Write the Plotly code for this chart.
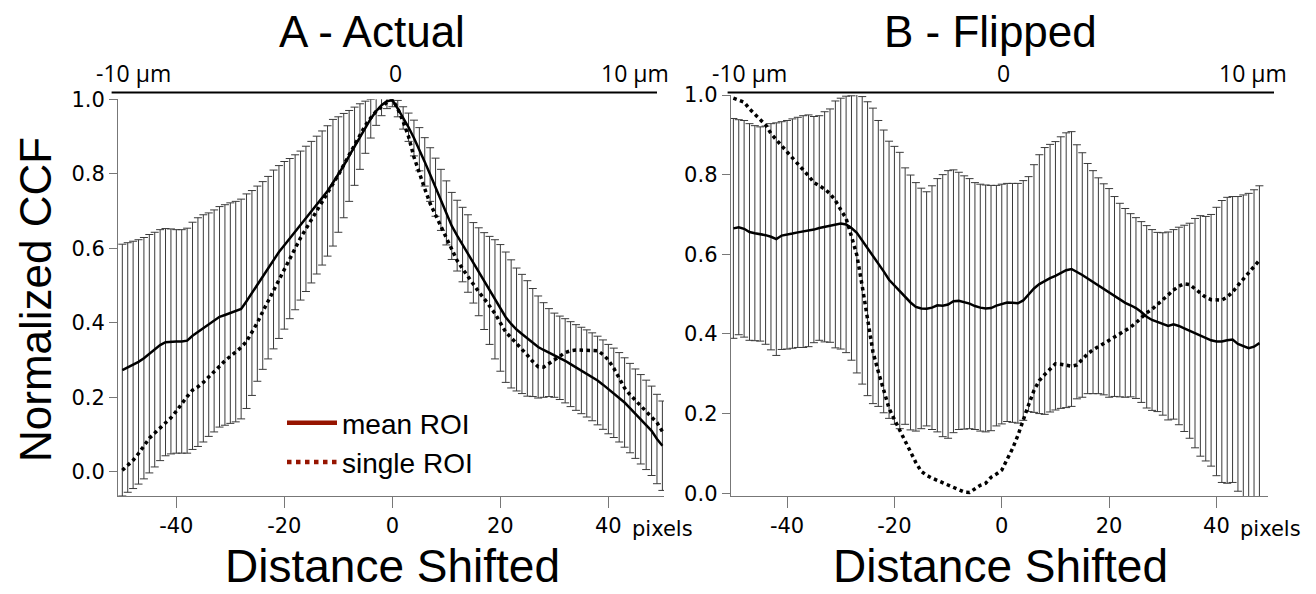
import plotly.graph_objects as go

# ---------------- data ----------------
shift_a = list(range(-50, 51))
shift_b = list(range(-50, 49))

mean_a = [0.273, 0.28, 0.287, 0.295, 0.305, 0.317, 0.328, 0.34, 0.348, 0.35,
          0.35, 0.35, 0.352, 0.365, 0.375, 0.385, 0.395, 0.405, 0.416, 0.421,
          0.426, 0.43, 0.437, 0.458, 0.48, 0.505, 0.527, 0.548, 0.57, 0.59,
          0.608, 0.626, 0.643, 0.661, 0.679, 0.697, 0.716, 0.735, 0.754, 0.776,
          0.798, 0.822, 0.848, 0.874, 0.9, 0.925, 0.948, 0.968, 0.984, 0.995,
          0.998,
          0.975, 0.95, 0.925, 0.896, 0.866, 0.832, 0.798, 0.764, 0.73, 0.695,
          0.66, 0.634, 0.61, 0.586, 0.561, 0.537, 0.512, 0.487, 0.463, 0.44,
          0.415, 0.397, 0.382, 0.37, 0.358, 0.347, 0.335, 0.327, 0.32, 0.313,
          0.306, 0.298, 0.289, 0.28, 0.272, 0.264, 0.255, 0.245, 0.234, 0.222,
          0.212, 0.2, 0.186, 0.171, 0.156, 0.141, 0.126, 0.11, 0.088, 0.07]

single_a = [0.004, 0.018, 0.031, 0.049, 0.07, 0.09, 0.104, 0.117, 0.13, 0.145,
            0.163, 0.184, 0.202, 0.219, 0.228, 0.24, 0.255, 0.27, 0.285, 0.298,
            0.31, 0.322, 0.334, 0.35, 0.375, 0.4, 0.43, 0.458, 0.488, 0.518,
            0.546, 0.574, 0.6, 0.628, 0.652, 0.676, 0.7, 0.722, 0.745, 0.77,
            0.797, 0.824, 0.85, 0.876, 0.905, 0.93, 0.95, 0.968, 0.98, 0.992,
            1.0,
            0.975, 0.94, 0.9, 0.845, 0.8, 0.76, 0.72, 0.69, 0.655, 0.625,
            0.595, 0.567, 0.545, 0.523, 0.503, 0.483, 0.465, 0.445, 0.425, 0.4,
            0.375, 0.36, 0.345, 0.33, 0.313, 0.296, 0.282, 0.281, 0.29, 0.3,
            0.31, 0.32, 0.325, 0.327, 0.327, 0.327, 0.327, 0.325, 0.315, 0.3,
            0.278, 0.252, 0.225, 0.207, 0.192, 0.178, 0.165, 0.15, 0.132, 0.108]

sd_a = [0.338, 0.335, 0.332, 0.328, 0.324, 0.32, 0.315, 0.31, 0.305, 0.302,
        0.3, 0.3, 0.302, 0.305, 0.307, 0.305, 0.3, 0.298, 0.296, 0.296,
        0.296, 0.296, 0.295, 0.288, 0.275, 0.262, 0.252, 0.245, 0.24, 0.232,
        0.225, 0.215, 0.208, 0.2, 0.195, 0.19, 0.185, 0.18, 0.175, 0.17,
        0.155, 0.14, 0.122, 0.105, 0.088, 0.07, 0.052, 0.038, 0.028, 0.02,
        0.018,
        0.022, 0.03, 0.038, 0.048, 0.058, 0.065, 0.072, 0.078, 0.082, 0.086,
        0.09, 0.095, 0.1, 0.104, 0.108, 0.118, 0.13, 0.145, 0.16, 0.17,
        0.175, 0.172, 0.165, 0.16, 0.155, 0.145, 0.137, 0.127, 0.118, 0.113,
        0.112, 0.113, 0.114, 0.115, 0.116, 0.117, 0.118, 0.119, 0.12, 0.12,
        0.12, 0.12, 0.12, 0.12, 0.12, 0.12, 0.12, 0.12, 0.12, 0.12]

mean_b = [0.665, 0.668, 0.664, 0.656, 0.653, 0.651, 0.648, 0.644, 0.638, 0.647,
          0.649, 0.652, 0.655, 0.657, 0.659, 0.662, 0.666, 0.669, 0.672, 0.675,
          0.677, 0.675, 0.666, 0.654, 0.635, 0.614, 0.596, 0.577, 0.557, 0.536,
          0.522, 0.509, 0.495, 0.479, 0.468, 0.464, 0.463, 0.466, 0.472, 0.471,
          0.474, 0.482, 0.483, 0.479, 0.476, 0.47, 0.466, 0.464, 0.465, 0.471,
          0.475,
          0.479, 0.478, 0.477, 0.484, 0.5, 0.514, 0.525, 0.533, 0.54, 0.546,
          0.554, 0.56, 0.563, 0.556, 0.548, 0.539, 0.53, 0.521, 0.512, 0.503,
          0.494, 0.485, 0.478, 0.472, 0.465, 0.455, 0.443, 0.435, 0.43, 0.425,
          0.42, 0.424, 0.42, 0.414, 0.408, 0.402, 0.395, 0.388, 0.384, 0.381,
          0.381, 0.384, 0.386, 0.375, 0.369, 0.364, 0.368, 0.377]

single_b = [0.992, 0.988, 0.982, 0.965, 0.951, 0.94, 0.925, 0.903, 0.887, 0.874,
            0.858, 0.842, 0.827, 0.813, 0.797, 0.78, 0.772, 0.764, 0.752, 0.735,
            0.712, 0.69, 0.645, 0.598, 0.52, 0.435, 0.355, 0.305, 0.258, 0.213,
            0.185, 0.157, 0.13, 0.103, 0.077, 0.055, 0.045, 0.038, 0.032, 0.028,
            0.022, 0.015, 0.01, 0.003, 0.002, 0.012, 0.02, 0.025, 0.04, 0.048,
            0.058,
            0.085, 0.112, 0.145, 0.185, 0.222, 0.258, 0.283, 0.298, 0.313, 0.325,
            0.324, 0.322, 0.319, 0.322, 0.336, 0.35, 0.36, 0.369, 0.376, 0.384,
            0.392, 0.4, 0.408, 0.417, 0.428, 0.441, 0.453, 0.462, 0.474, 0.487,
            0.499, 0.51, 0.52, 0.526, 0.524, 0.514, 0.502, 0.492, 0.486, 0.485,
            0.485, 0.493, 0.505, 0.522, 0.538, 0.552, 0.57, 0.585]

sd_b = [0.276, 0.27, 0.272, 0.272, 0.27, 0.269, 0.274, 0.284, 0.292, 0.286,
        0.287, 0.288, 0.289, 0.291, 0.291, 0.284, 0.282, 0.289, 0.293, 0.31,
        0.315, 0.322, 0.332, 0.352, 0.361, 0.369, 0.371, 0.359, 0.355, 0.348,
        0.349, 0.347, 0.322, 0.32, 0.312, 0.302, 0.294, 0.306, 0.318, 0.329,
        0.336, 0.33, 0.323, 0.318, 0.314, 0.31, 0.31, 0.31, 0.308, 0.302,
        0.301,
        0.299, 0.3, 0.301, 0.301, 0.295, 0.311, 0.325, 0.335, 0.336, 0.337,
        0.341, 0.345, 0.345, 0.319, 0.307, 0.289, 0.28, 0.271, 0.265, 0.262,
        0.251, 0.243, 0.237, 0.23, 0.227, 0.227, 0.229, 0.227, 0.225, 0.229,
        0.236, 0.238, 0.248, 0.259, 0.27, 0.288, 0.302, 0.307, 0.316, 0.337,
        0.354, 0.359, 0.359, 0.37, 0.38, 0.389, 0.394, 0.395]

y_ticks = [0.0, 0.2, 0.4, 0.6, 0.8, 1.0]
x_ticks = [-40, -20, 0, 20, 40]
x_ticktext = ["-40", "-20", "0", "20", "40"]
um_labels = ["-10 µm", "0", "10 µm"]
panel_titles = ["A - Actual", "B - Flipped"]
legend_names = ["mean ROI", "single ROI"]

# ---------------- figure ----------------
# the page body keeps its default 8px margin, so the figure is sized to the
# remaining viewport and all screen positions are measured from that offset
OFF = 8
W, H = 1316 - OFF, 594 - OFF
fig = go.Figure()

err_style = dict(type="data", color="#3a3a3a", thickness=1, width=4)
legend_red = "#961400"

for xs, mean, single, sd, xa, ya in [
    (shift_a, mean_a, single_a, sd_a, "x", "y"),
    (shift_b, mean_b, single_b, sd_b, "x2", "y2"),
]:
    fig.add_trace(go.Scatter(
        x=xs, y=mean, mode="lines", xaxis=xa, yaxis=ya, showlegend=False,
        line=dict(color="black", width=2.5),
        error_y=dict(array=sd, **err_style),
    ))
    fig.add_trace(go.Scatter(
        x=xs, y=single, mode="lines", xaxis=xa, yaxis=ya, showlegend=False,
        line=dict(color="black", width=3.5, dash="dot"),
    ))

# legend entries (red swatches as in the original)
fig.add_trace(go.Scatter(x=[None], y=[None], mode="lines", name=legend_names[0],
                         line=dict(color=legend_red, width=4.5)))
fig.add_trace(go.Scatter(x=[None], y=[None], mode="lines", name=legend_names[1],
                         line=dict(color=legend_red, width=4.5, dash="dot")))


def px_x(p):
    return (p - OFF) / W


def px_y(p):
    return 1 - (p - OFF) / H


axis_common = dict(showgrid=False, zeroline=False, showline=True,
                   linecolor="#777777", linewidth=1, ticks="outside",
                   tickcolor="#777777", tickwidth=1, automargin=False,
                   tickfont=dict(family="DejaVu Sans", size=21, color="black"))

fig.update_layout(
    width=W, height=H, autosize=False,
    margin=dict(l=0, r=0, t=0, b=0, pad=0, autoexpand=False),
    paper_bgcolor="white", plot_bgcolor="white",
    xaxis=dict(domain=[px_x(118), px_x(664)], range=[-50.8, 50.3], anchor="y",
               tickvals=x_ticks, ticktext=x_ticktext, ticklen=11, **axis_common),
    yaxis=dict(domain=[px_y(496), px_y(99.3)], range=[-0.065, 1.0], anchor="x",
               tickvals=y_ticks, tickformat=".1f", ticklen=8, **axis_common),
    xaxis2=dict(domain=[px_x(730.7), px_x(1268)], range=[-50.5, 49.6], anchor="y2",
                tickvals=x_ticks, ticktext=x_ticktext, ticklen=11, **axis_common),
    yaxis2=dict(domain=[px_y(496), px_y(95)], range=[-0.007, 1.0], anchor="x2",
                tickvals=y_ticks, tickformat=".1f", ticklen=8, **axis_common),
    legend=dict(x=px_x(282), y=px_y(398), xanchor="left", yanchor="top",
                bgcolor="rgba(0,0,0,0)", itemwidth=50, tracegroupgap=0,
                font=dict(family="Liberation Sans", size=28, color="black")),
)

ann = []
# panel titles
for t, cx in zip(panel_titles, [371.5, 990]):
    ann.append(dict(text=t, x=px_x(cx), y=px_y(31), xref="paper", yref="paper",
                    xanchor="center", yanchor="middle", showarrow=False,
                    font=dict(family="Liberation Sans", size=44, color="black")))
# axis titles
for cx in [392.5, 1000]:
    ann.append(dict(text="Distance Shifted", x=px_x(cx), y=px_y(566), xref="paper",
                    yref="paper", xanchor="center", yanchor="middle", showarrow=False,
                    borderpad=0,
                    font=dict(family="Liberation Sans", size=46, color="black")))
ann.append(dict(text="Normalized CCF", x=px_x(35), y=px_y(300), xref="paper",
                yref="paper", xanchor="center", yanchor="middle", showarrow=False,
                textangle=-90, borderpad=0,
                font=dict(family="Liberation Sans", size=44, color="black")))
# top micrometre scale labels
for centers in ([133, 395, 635], [749.5, 1003.6, 1253]):
    for lab, cx in zip(um_labels, centers):
        ann.append(dict(text=lab, x=px_x(cx), y=px_y(73), xref="paper", yref="paper",
                        xanchor="center", yanchor="middle", showarrow=False,
                        font=dict(family="Open Sans", size=23, color="black")))
# "pixels" unit after the 40 tick label
for xr in ["x", "x2"]:
    ann.append(dict(text="pixels", x=40, xref=xr, y=px_y(529), yref="paper",
                    xanchor="left", yanchor="middle", xshift=22, showarrow=False,
                    font=dict(family="DejaVu Sans", size=21, color="black")))
fig.update_layout(annotations=ann)

# top scale lines
for x0, x1 in [(111.6, 657), (727.6, 1274)]:
    fig.add_shape(type="line", xref="paper", yref="paper",
                  x0=px_x(x0), x1=px_x(x1), y0=px_y(92.5), y1=px_y(92.5),
                  line=dict(color="black", width=2))

fig.write_html("out.html")
